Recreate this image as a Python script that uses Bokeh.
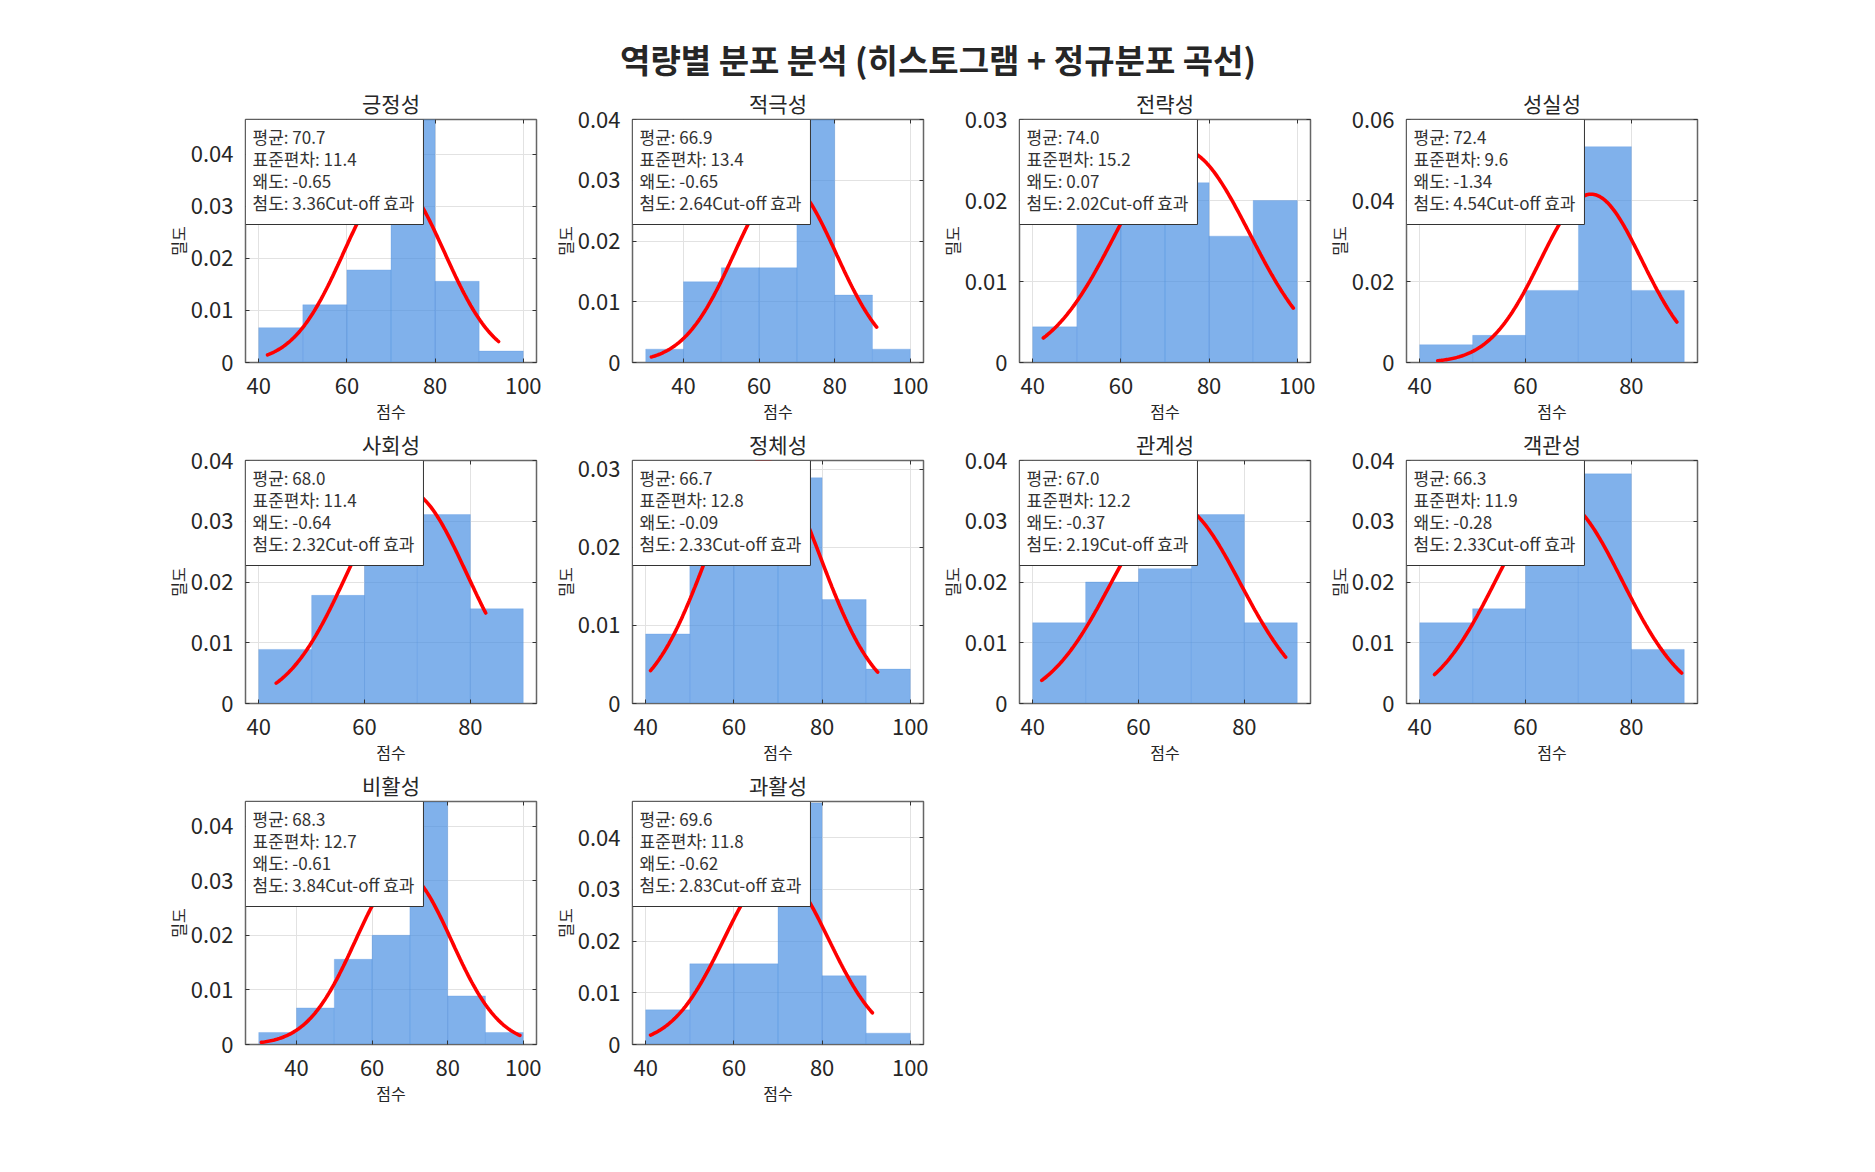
import numpy as np
from bokeh.plotting import figure
from bokeh.models import (Label, LinearAxis, SingleIntervalTicker,
                          CustomJSTickFormatter, Range1d)
from bokeh.layouts import column, row
from bokeh.embed import file_html
from bokeh.resources import INLINE

# ---------------- data ----------------
TITLE = "역량별 분포 분석 (히스토그램 + 정규분포 곡선)"
X_LABEL = "점수"
Y_LABEL = "밀도"

names = ["긍정성", "적극성", "전략성", "성실성", "사회성",
         "정체성", "관계성", "객관성", "비활성", "과활성"]
means = [70.7, 66.9, 74.0, 72.4, 68.0, 66.7, 67.0, 66.3, 68.3, 69.6]
sds = [11.4, 13.4, 15.2, 9.6, 11.4, 12.8, 12.2, 11.9, 12.7, 11.8]
skews = [-0.65, -0.65, 0.07, -1.34, -0.64, -0.09, -0.37, -0.28, -0.61, -0.62]
kurts = [3.36, 2.64, 2.02, 4.54, 2.32, 2.33, 2.19, 2.33, 3.84, 2.83]

bin_edges = [
    [40, 50, 60, 70, 80, 90, 100],
    [30, 40, 50, 60, 70, 80, 90, 100],
    [40, 50, 60, 70, 80, 90, 100],
    [40, 50, 60, 70, 80, 90],
    [40, 50, 60, 70, 80, 90],
    [40, 50, 60, 70, 80, 90, 100],
    [40, 50, 60, 70, 80, 90],
    [40, 50, 60, 70, 80, 90],
    [30, 40, 50, 60, 70, 80, 90, 100],
    [40, 50, 60, 70, 80, 90, 100],
]
densities = [
    [0.0067, 0.0111, 0.0178, 0.0467, 0.0156, 0.0022],
    [0.0022, 0.0133, 0.0156, 0.0156, 0.0400, 0.0111, 0.0022],
    [0.0044, 0.0178, 0.0200, 0.0222, 0.0156, 0.0200],
    [0.0044, 0.0067, 0.0178, 0.0533, 0.0178],
    [0.0089, 0.0178, 0.0267, 0.0311, 0.0156],
    [0.0089, 0.0222, 0.0222, 0.0289, 0.0133, 0.0044],
    [0.0133, 0.0200, 0.0222, 0.0311, 0.0133],
    [0.0133, 0.0156, 0.0244, 0.0378, 0.0089],
    [0.0022, 0.0067, 0.0156, 0.0200, 0.0444, 0.0089, 0.0022],
    [0.0067, 0.0156, 0.0156, 0.0467, 0.0133, 0.0022],
]
# x-extent of the drawn normal curve in each panel
curve_lo = [42.0, 31.5, 42.4, 43.4, 43.3, 41.1, 41.7, 42.8, 30.7, 41.1]
curve_hi = [94.4, 91.1, 99.1, 88.6, 82.9, 92.6, 87.8, 89.5, 99.1, 91.4]
# upper y-limit of each panel
y_tops = [0.0467, 0.040, 0.030, 0.060, 0.040, 0.0311, 0.040, 0.040, 0.0445, 0.047]
y_steps = [0.01, 0.01, 0.01, 0.02, 0.01, 0.01, 0.01, 0.01, 0.01, 0.01]
X_STEP = 20

# ---------------- styling ----------------
FONT = "Noto Sans CJK KR"
TXT = "#262626"
BAR = "#4a90e2"
FRAME_W, FRAME_H = 291, 243
TOP_B, BOT_B = 31, 67
TITLE_H = 88


def make_panel(i, first_col):
    edges = bin_edges[i]
    span = edges[-1] - edges[0]
    x0, x1 = edges[0] - 0.05 * span, edges[-1] + 0.05 * span
    p = figure(frame_width=FRAME_W, frame_height=FRAME_H,
               x_range=Range1d(x0, x1), y_range=Range1d(0, y_tops[i]),
               output_backend="svg", toolbar_location=None, title=names[i],
               min_border_left=245 if first_col else 90, min_border_right=6,
               min_border_top=TOP_B, min_border_bottom=BOT_B,
               background_fill_color="white", border_fill_color="white")
    p.title.text_font = FONT
    p.title.text_font_size = "21px"
    p.title.text_font_style = "normal"
    p.title.text_color = TXT
    p.title.align = "center"
    p.title.standoff = -5

    p.outline_line_color = "#666666"
    p.outline_line_width = 1.5
    p.xgrid.grid_line_color = "#e2e2e2"
    p.ygrid.grid_line_color = "#e2e2e2"

    xt = SingleIntervalTicker(interval=X_STEP)
    yt = SingleIntervalTicker(interval=y_steps[i])
    yfmt = CustomJSTickFormatter(code="return Math.abs(tick) < 1e-9 ? '0' : tick.toFixed(2);")

    p.xaxis.ticker = xt
    p.yaxis.ticker = yt
    p.yaxis.formatter = yfmt
    p.xgrid.ticker = xt
    p.ygrid.ticker = yt
    for ax in (p.xaxis[0], p.yaxis[0]):
        ax.axis_line_color = "#666666"
        ax.major_tick_line_color = "#333333"
        ax.major_tick_in = 4
        ax.major_tick_out = 0
        ax.minor_tick_line_color = None
        ax.major_label_text_font = FONT
        ax.major_label_text_font_size = "22px"
        ax.major_label_text_color = TXT
        ax.axis_label_text_font = FONT
        ax.axis_label_text_font_size = "16px"
        ax.axis_label_text_font_style = "normal"
        ax.axis_label_text_color = TXT
    p.xaxis.major_label_standoff = 11
    p.xaxis.axis_label_standoff = 2
    p.yaxis.major_label_standoff = 8
    p.yaxis.axis_label_standoff = -2
    p.xaxis.axis_label = X_LABEL
    p.yaxis.axis_label = Y_LABEL

    # mirrored inner ticks on the right and top (no labels drawn)
    for loc, tk in (("right", yt), ("above", xt)):
        ax = LinearAxis(ticker=tk, axis_line_color=None,
                        major_tick_in=4, major_tick_out=0,
                        major_tick_line_color="#333333",
                        minor_tick_line_color=None,
                        major_label_text_font_size="0px",
                        major_label_text_color=None,
                        major_label_standoff=0)
        p.add_layout(ax, loc)

    p.quad(left=edges[:-1], right=edges[1:], bottom=0, top=densities[i],
           fill_color=BAR, fill_alpha=0.7, line_color=BAR, line_alpha=0.25,
           line_width=1)

    xs = np.linspace(curve_lo[i], curve_hi[i], 200)
    ys = np.exp(-0.5 * ((xs - means[i]) / sds[i]) ** 2) / (sds[i] * np.sqrt(2 * np.pi))
    p.line(xs, ys, line_color="#ff0000", line_width=3.6, line_cap="round")

    txt = (f"평균: {means[i]:.1f}\n표준편차: {sds[i]:.1f}\n"
           f"왜도: {skews[i]:.2f}\n첨도: {kurts[i]:.2f}Cut-off 효과")
    p.add_layout(Label(x=x0, y=y_tops[i], x_units="data", y_units="data",
                       anchor="top_left", text=txt, text_font=FONT,
                       text_font_size="17px", text_color="#333333",
                       text_line_height=0.88,
                       background_fill_color="white", background_fill_alpha=1.0,
                       border_line_color="#333333", border_line_width=1,
                       padding=dict(left=7, right=9, top=4, bottom=10)))
    return p


panels = [make_panel(i, i % 4 == 0) for i in range(len(names))]

head = figure(width=1875, height=TITLE_H, output_backend="svg",
              toolbar_location=None, x_axis_location=None, y_axis_location=None,
              min_border=0, outline_line_color=None,
              x_range=Range1d(0, 1), y_range=Range1d(0, 1))
head.grid.visible = False
head.add_layout(Label(x=937.5, y=TITLE_H - 58, x_units="screen", y_units="screen",
                      text=TITLE, text_align="center", text_baseline="middle",
                      text_font=FONT, text_font_size="33px",
                      text_font_style="bold", text_color=TXT))

layout = column(head,
                row(*panels[0:4]),
                row(*panels[4:8]),
                row(*panels[8:10]))

with open("out.html", "w") as f:
    f.write(file_html(layout, INLINE))
